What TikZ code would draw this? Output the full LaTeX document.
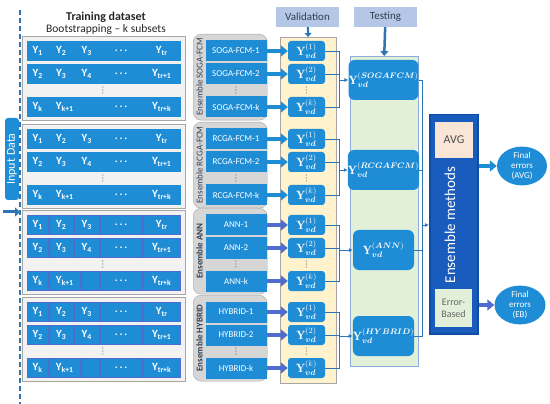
\documentclass[tikz,border=0pt]{standalone}
\usepackage{fontspec}
\setsansfont{Carlito}
\usepackage{amsmath}
\usetikzlibrary{positioning, shapes.geometric, arrows.meta, calc}
\definecolor{cellblue}{HTML}{1F8DD6}
\definecolor{linkblue}{HTML}{2E75B6}
\definecolor{ensblue}{HTML}{1A5CBE}
\definecolor{ensedge}{HTML}{0F4CA3}
\definecolor{grpfill}{HTML}{F2F2F2}
\definecolor{grpedge}{HTML}{A6A6A6}
\definecolor{modfill}{HTML}{D6D6D6}
\definecolor{valfill}{HTML}{FFF2CC}
\definecolor{testfill}{HTML}{E2F0D9}
\definecolor{testedge}{HTML}{8FAADC}
\definecolor{tagfill}{HTML}{B4C7E7}
\definecolor{ink}{HTML}{333F50}
\definecolor{avgfill}{HTML}{FBE5D6}
\definecolor{indigo}{HTML}{4F6CCF}

\begin{document}
\begin{tikzpicture}[x=1pt, y=-1pt, font=\sffamily,
  cell/.style={fill=cellblue, text=white, font=\sffamily\fontsize{11}{12}\selectfont\bfseries, minimum height=19, inner sep=0pt, anchor=west},
  grp/.style={draw=grpedge, fill=grpfill, line width=0.8pt, anchor=north west},
  ens/.style={draw=grpedge, fill=modfill, rounded corners=8pt, anchor=north west},
  model/.style={fill=cellblue, text=white, font=\sffamily\fontsize{9}{10}\selectfont, minimum width=61, minimum height=21, inner sep=0pt},
  vd/.style={fill=cellblue, text=white, rounded corners=3pt, minimum width=37, minimum height=20, inner sep=0pt, font=\fontsize{12}{13}\selectfont},
  res/.style={fill=cellblue, text=white, rounded corners=6pt, minimum width=61, minimum height=40, inner sep=0pt, font=\fontsize{12}{13}\selectfont},
  tag/.style={fill=tagfill, text=ink, font=\sffamily\fontsize{11}{12}\selectfont, minimum width=63, minimum height=20, inner sep=0pt},
  dots/.style={rotate=90, text=ink, font=\sffamily\fontsize{8}{8}\selectfont, inner sep=0pt},
  link/.style={draw=linkblue, line width=0.9pt},
  fat/.style={-{Triangle[length=7pt, width=11pt]}, line width=4.5pt}
]
  \useasboundingbox (0,0) rectangle (550,404);

  \node[font=\sffamily\fontsize{12}{13}\selectfont\bfseries, text=black!85, inner sep=0pt] (title) at (106,17) {Training dataset};
  \node[below=2pt of title, font=\sffamily\fontsize{11.5}{13}\selectfont, text=black!85, inner sep=0pt] (sub) {Bootstrapping -- k subsets};

  \coordinate (dtop) at (20,10);
  \coordinate (dbot) at (20,404);
  \draw[linkblue, line width=1.2pt, dash pattern=on 5pt off 3pt] (dtop) -- (dbot);
  \node[fill=cellblue, rounded corners=3pt, rotate=90, text=white, minimum width=82, minimum height=14, inner sep=0pt, font=\sffamily\fontsize{12}{12}\selectfont] (input) at (12,159) {Input Data};
  \coordinate (ina) at (3,212);
  \coordinate (inb) at (20,212);
  \draw[fat, linkblue, -{Triangle[length=5pt, width=9pt]}, line width=3pt] (ina) -- (inb);

  \node[draw=grpedge, fill=valfill, minimum width=56, minimum height=346, anchor=north west] (valcol) at (280,37) {};
  \node[draw=testedge, fill=testfill, minimum width=68, minimum height=310, anchor=north west] (testcol) at (350,56) {};
  \node[tag] (val) at (307.5,17) {Validation};
  \node[tag] (test) at (385.5,17) {Testing};
  \draw[linkblue, line width=2pt, -{Triangle[length=4pt, width=7pt]}] (val) -- (valcol.north);
  \draw[linkblue, line width=2.5pt, -{Triangle[length=5pt, width=8pt]}] (test) -- (testcol.north);

  \foreach \g/\gt/\tc/\mname/\tname/\ename/\ac in {
      1/36/80/SOGA-FCM/SOGAFCM/{Ensemble SOGA-FCM}/cellblue,
      2/124/170/RCGA-FCM/RCGAFCM/{Ensemble RCGA-FCM}/cellblue,
      3/210/250/ANN/ANN/{\textbf{Ensemble ANN}}/indigo,
      4/297/336/HYBRID/HYBRID/{\textbf{Ensemble HYBRID}}/indigo} {
    \node[grp, minimum width=163, minimum height=84] (grp\g) at (22,\gt) {};
    \foreach \i/\x/\w/\txt in {1/27/21/{Y\textsubscript{1}}, 2/49/24/{Y\textsubscript{2}}, 3/74/25/{Y\textsubscript{3}}, 4/100/42/{.\,.\,.}, 5/143/37/{Y\textsubscript{tr}}}
      \node[cell, draw=\ac, minimum width=\w] (c\g-1-\i) at (\x,\gt+15) {\txt};
    \foreach \i/\x/\w/\txt in {1/27/21/{Y\textsubscript{2}}, 2/49/24/{Y\textsubscript{3}}, 3/74/25/{Y\textsubscript{4}}, 4/100/42/{.\,.\,.}, 5/143/37/{Y\textsubscript{tr+1}}}
      \node[cell, draw=\ac, minimum width=\w] (c\g-2-\i) at (\x,\gt+38) {\txt};
    \foreach \i/\x/\w/\txt in {1/27/21/{Y\textsubscript{k}}, 2/49/31/{Y\textsubscript{k+1}}, 3/81/18/{}, 4/100/42/{.\,.\,.}, 5/143/37/{Y\textsubscript{tr+k}}}
      \node[cell, draw=\ac, minimum width=\w] (c\g-k-\i) at (\x,\gt+71) {\txt};
    \node[dots] (cd\g) at (103,\gt+54.5) {.\hspace{1.2pt}.\hspace{1.2pt}.};

    \node[ens, minimum width=74, minimum height=86] (ens\g) at (193,\gt-2) {};
    \node[rotate=90, text=ink, font=\sffamily\fontsize{9}{10}\selectfont, inner sep=0pt] (el\g) at (199.5,\gt+41) {\ename};
    \node[model] (m\g-1) at (236,\gt+15) {\mname-1};
    \node[model] (m\g-2) at (236,\gt+38) {\mname-2};
    \node[model] (m\g-k) at (236,\gt+71) {\mname-k};
    \node[dots] (md\g) at (236,\gt+54.5) {.\hspace{1.2pt}.\hspace{1.2pt}.};

    \node[vd] (v\g-1) at (306.5,\gt+15) {$\mathbf{Y}_{\boldsymbol{vd}}^{(1)}$};
    \node[vd] (v\g-2) at (306.5,\gt+38) {$\mathbf{Y}_{\boldsymbol{vd}}^{(2)}$};
    \node[vd] (v\g-k) at (306.5,\gt+71) {$\mathbf{Y}_{\boldsymbol{vd}}^{(k)}$};
    \node[dots] (vdd\g) at (306.5,\gt+54.5) {.\hspace{1.2pt}.\hspace{1.2pt}.};

    \draw[fat, \ac] (m\g-1.east) -- (v\g-1.west);
    \draw[fat, \ac] (m\g-2.east) -- (v\g-2.west);
    \draw[fat, \ac] (m\g-k.east) -- (v\g-k.west);

    \node[res] (t\g) at (383.5,\tc) {$\mathbf{Y}_{\boldsymbol{vd}}^{(\boldsymbol{\tname})}$};
    \coordinate (b\g) at (339,\tc);
    \draw[link] (v\g-1.east) -| (b\g);
    \draw[link] (v\g-k.east) -| (b\g);
    \draw[link] (v\g-2.east) -- (v\g-2.east -| b\g);
    \draw[link, -{Latex[length=4pt, width=4pt]}] (b\g) -- (t\g.west);
  }

  \node[fill=ensblue, draw=ensedge, line width=1.5pt, minimum width=48, minimum height=219, anchor=north west] (ensm) at (429,114) {};
  \node[rotate=90, text=white, font=\sffamily\fontsize{15}{16}\selectfont, inner sep=0pt] (enslbl) at (450,225) {Ensemble methods};
  \node[fill=avgfill, minimum width=38, minimum height=36, inner sep=0pt, text=black!70, font=\sffamily\fontsize{12}{13}\selectfont] (avg) at (454,140) {AVG};
  \node[fill=testfill, minimum width=37, minimum height=38, inner sep=0pt, align=center, text=black!60, font=\sffamily\fontsize{10}{12}\selectfont] (eb) at (453.5,308) {Error-\\Based};

  \coordinate (m) at (422,225);
  \draw[link] (t1.east) -| (m);
  \draw[link] (t4.east) -| (m);
  \draw[link] (t2.east) -- (t2.east -| m);
  \draw[link] (t3.east) -- (t3.east -| m);
  \draw[link, -{Latex[length=4pt, width=4pt]}] (m) -- (ensm.west |- m);

  \node[ellipse, fill=cellblue, text=white, minimum width=50, minimum height=38, inner sep=0pt, align=center, font=\sffamily\fontsize{9}{10}\selectfont] (fa) at (522,166) {Final\\errors\\(AVG)};
  \node[ellipse, fill=cellblue, text=white, minimum width=51, minimum height=36, inner sep=0pt, align=center, font=\sffamily\fontsize{9}{10}\selectfont] (fe) at (520,305) {Final\\errors\\(EB)};
  \draw[fat, cellblue] (ensm.east |- fa) -- (fa.west);
  \draw[fat, indigo] (ensm.east |- fe) -- (fe.west);
\end{tikzpicture}
\end{document}
